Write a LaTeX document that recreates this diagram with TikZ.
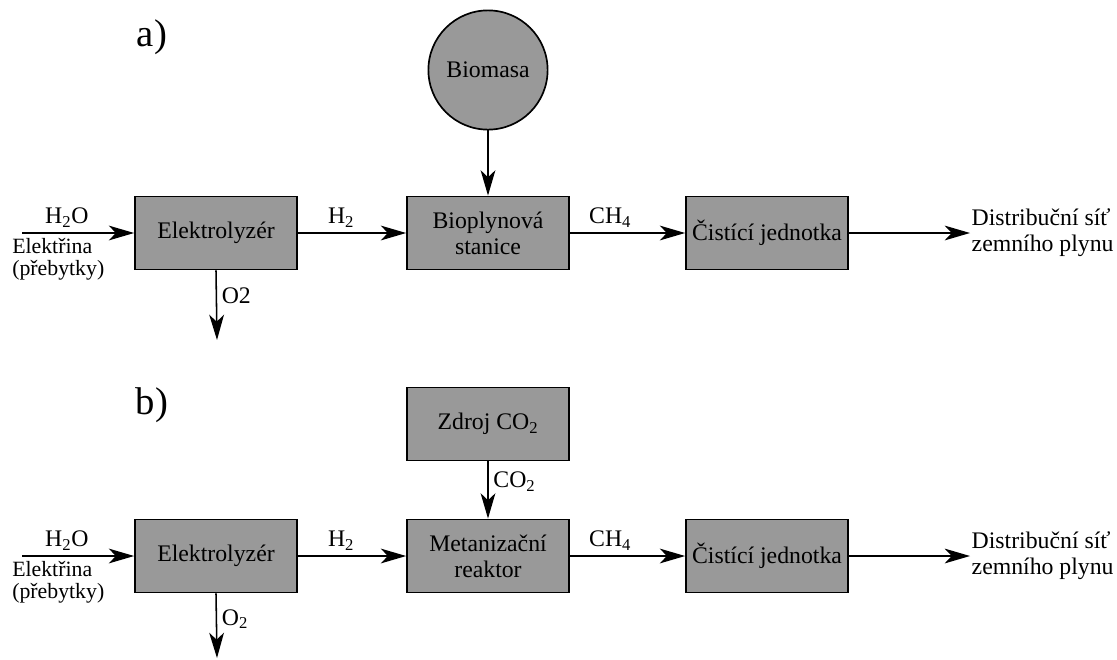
\documentclass[tikz,border=0pt]{standalone}
\usepackage{fontspec}
\setmainfont{Liberation Serif}
\usetikzlibrary{arrows.meta}

\tikzset{
	blok/.style={draw, line width=1.2pt, fill=black!40, minimum width=4.05cm, minimum height=1.83cm, align=center, inner sep=2pt},
	kruh/.style={draw, line width=1.2pt, fill=black!40, circle, minimum size=2.98cm, inner sep=0pt},
	sipka/.style={-{Stealth[length=18pt, width=10.5pt, inset=5pt]}, line width=1.1pt},
	popis/.style={font=\fontsize{15.5}{15.6}\selectfont}
}

\begin{document}
\begin{tikzpicture}[x=0.025cm, y=-0.025cm, font=\fontsize{16.9}{18.6}\selectfont]
			\useasboundingbox (0,0) rectangle (1117,659);
			%a)
			\node at (152,37) {\fontsize{27.5}{30}\selectfont a)};
			\node[kruh] (biom) at (488,70) {Biomasa};
			\node[blok] (ela) at (216,233) {Elektrolyzér};
			\node[blok] (bio) at (488,233) {Bioplynová\\stanice};
			\node[blok] (cia) at (767,233) {Čistící jednotka};
			\node[anchor=west, align=left, inner sep=1pt] (sita) at (970,233) {Distribuční síť\\zemního plynu};
			\node[popis, anchor=west, align=left, inner sep=0pt] (elekta) at (12,259) {Elektřina\\(přebytky)};
			\coordinate (vstupa) at (22,233);
			\coordinate (kysa) at (217,340);
			\draw[sipka] (vstupa) --node[pos=0.4, above]{H\textsubscript{2}O} (ela);
			\draw[sipka] (ela) --node[pos=0.4, above]{H\textsubscript{2}} (bio);
			\draw[sipka] (bio) --node[pos=0.35, above]{CH\textsubscript{4}} (cia);
			\draw[sipka] (cia) -- (sita);
			\draw[sipka] (biom) -- (bio);
			\draw[sipka] (ela.south) --node[pos=0.37, right]{O2} (kysa);
			%b)
			\node at (152,405) {\fontsize{27.5}{30}\selectfont b)};
			\node[blok] (zdroj) at (488,424) {Zdroj CO\textsubscript{2}};
			\node[blok] (elb) at (216,556) {Elektrolyzér};
			\node[blok] (met) at (488,556) {Metanizační\\reaktor};
			\node[blok] (cib) at (767,556) {Čistící jednotka};
			\node[anchor=west, align=left, inner sep=1pt] (sitb) at (970,556) {Distribuční síť\\zemního plynu};
			\node[popis, anchor=west, align=left, inner sep=0pt] (elektb) at (12,582) {Elektřina\\(přebytky)};
			\coordinate (vstupb) at (22,556);
			\coordinate (kysb) at (217,658);
			\draw[sipka] (vstupb) --node[pos=0.4, above]{H\textsubscript{2}O} (elb);
			\draw[sipka] (elb) --node[pos=0.4, above]{H\textsubscript{2}} (met);
			\draw[sipka] (met) --node[pos=0.35, above]{CH\textsubscript{4}} (cib);
			\draw[sipka] (cib) -- (sitb);
			\draw[sipka] (zdroj) --node[pos=0.35, right]{CO\textsubscript{2}} (met);
			\draw[sipka] (elb.south) --node[pos=0.4, right]{O\textsubscript{2}} (kysb);
		\end{tikzpicture}
\end{document}
